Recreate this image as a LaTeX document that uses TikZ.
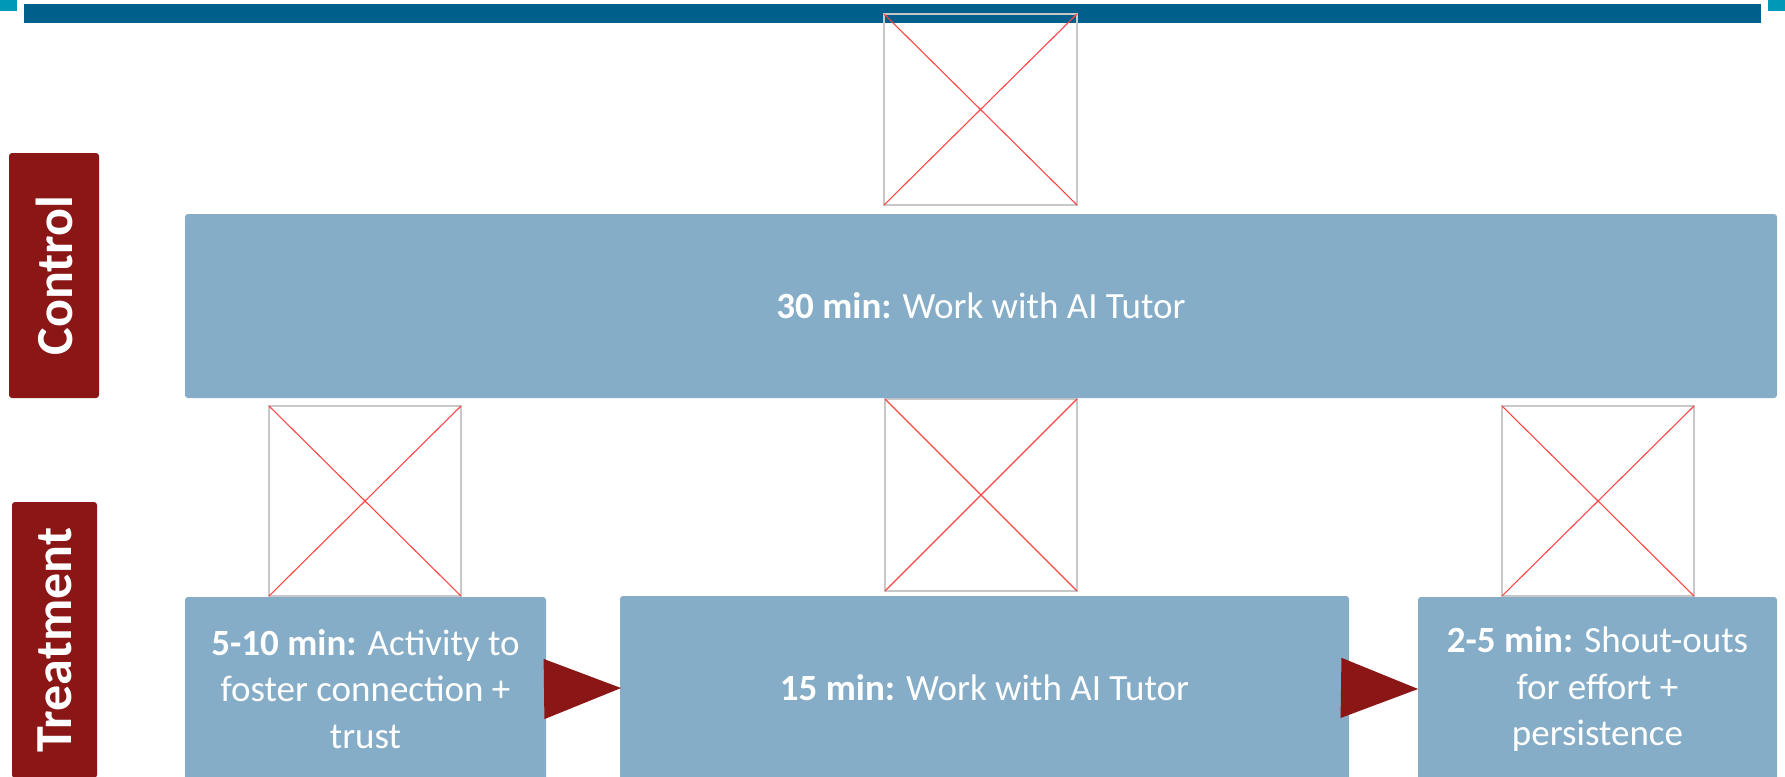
\documentclass[tikz,border=0pt]{standalone}
\usepackage{fontspec}
\setmainfont{Carlito}
\usetikzlibrary{arrows.meta}
\definecolor{barblue}{HTML}{005F8B}
\definecolor{accteal}{HTML}{0098B7}
\definecolor{boxblue}{HTML}{85ADC7}
\definecolor{labred}{HTML}{8B1616}
\definecolor{phgray}{HTML}{C8C8C8}
\definecolor{phred}{HTML}{FF4444}
\begin{document}
\begin{tikzpicture}[x=0.5pt,y=-0.5pt,
  grouplabel/.style={fill=labred, text=white, rounded corners=1.5pt, inner sep=0pt, outer sep=0pt,
    font=\fontsize{26}{30}\selectfont\bfseries, rotate=90},
  stepbox/.style={fill=boxblue, text=white, rounded corners=1.5pt, inner sep=0pt, outer sep=0pt,
    minimum height=92pt, align=center, font=\fontsize{18.5}{23.3}\selectfont},
  placeholder/.style={draw=phgray, line width=0.6pt, inner sep=0pt, outer sep=0pt},
  cross/.style={draw=phred, line width=0.55pt},
  flowarrow/.style={draw=labred, line width=5.5pt, -{Triangle[length=39pt,width=28.5pt]}}
]
\useasboundingbox (0,0) rectangle (1785,777);
% header
\fill[accteal] (0,0) rectangle (17,11);
\fill[accteal] (1768,0) rectangle (1785,11);
\fill[barblue] (24,4) rectangle (1761,23);
% placeholders
\node[placeholder, minimum width=96.5pt, minimum height=95.5pt] (ph0) at (980.5,109.5) {};
\node[placeholder, minimum width=96pt, minimum height=95pt] (ph1) at (365,501) {};
\node[placeholder, minimum width=96pt, minimum height=96pt] (ph2) at (981,495) {};
\node[placeholder, minimum width=96pt, minimum height=95pt] (ph3) at (1598,501) {};
\foreach \p in {ph0,ph1,ph2,ph3}{
  \draw[cross] (\p.north west) -- (\p.south east);
  \draw[cross] (\p.north east) -- (\p.south west);
}
% group labels
\node[grouplabel, minimum width=122.5pt, minimum height=45pt] (ctl) at (54,275.5) {Control};
\node[grouplabel, minimum width=138pt, minimum height=42.5pt] (trt) at (54.5,640) {Treatment};
% boxes
\node[stepbox, minimum width=796pt] (c30) at (981,306) {\textbf{30 min:} Work with AI Tutor};
\node[stepbox, minimum width=180.5pt] (b1) at (365.5,689) {\textbf{5-10 min:} Activity to\\foster connection +\\trust};
\node[stepbox, minimum width=364.5pt] (b2) at (984.5,688) {\textbf{15 min:} Work with AI Tutor};
\node[stepbox, minimum width=179.5pt] (b3) at (1597.5,689) {\textbf{2-5 min:} Shout-outs\\for effort +\\persistence};
% arrows
\draw[flowarrow] (b1.east) -- ([xshift=1pt]b2.west);
\draw[flowarrow] (b2.east) -- ([xshift=0.5pt]b3.west);
\end{tikzpicture}
\end{document}
